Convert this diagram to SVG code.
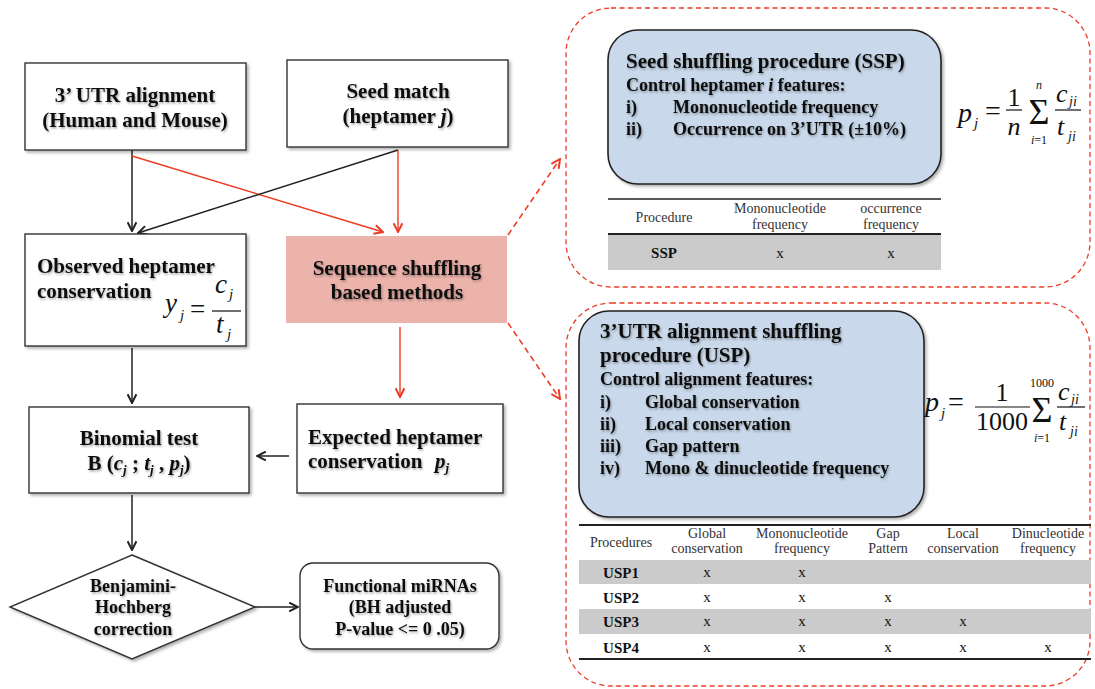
<svg xmlns="http://www.w3.org/2000/svg" width="1095" height="689" viewBox="0 0 1095 689">
  <style>
    .t { font-family: "Liberation Serif", "Times New Roman", serif; fill: #111; }
    .b { font-weight: bold; }
    .i { font-style: italic; }
    .n21 { font-size: 21px; }
    .n18 { font-size: 18px; }
    .tab { font-size: 14px; fill: #333; }
    .row { font-size: 15px; }
    .box { fill: #fff; stroke: #333; stroke-width: 1.4; }
    .blue { fill: #c9d9eb; stroke: #222; stroke-width: 1.6; }
    .dash { fill: none; stroke: #ee3b24; stroke-width: 1.3; stroke-dasharray: 5 3.5; }
    .blk { fill: none; stroke: #222; stroke-width: 1.5; }
    .red { fill: none; stroke: #ee3b24; stroke-width: 1.4; }
    .reddash { fill: none; stroke: #ee3b24; stroke-width: 1.5; stroke-dasharray: 6 4; }
    .shd { filter: url(#ds); }
    .tsh { filter: url(#ts); }
  </style>
  <defs>
    <filter id="ds" x="-10%" y="-10%" width="130%" height="130%">
      <feDropShadow dx="2" dy="2" stdDeviation="1.5" flood-color="#000" flood-opacity="0.3"/>
    </filter>
    <filter id="ts" x="-5%" y="-20%" width="115%" height="150%">
      <feDropShadow dx="1" dy="1.5" stdDeviation="0.9" flood-color="#000" flood-opacity="0.35"/>
    </filter>
    <marker id="ab" viewBox="0 0 10 10" refX="9" refY="5" markerWidth="11" markerHeight="11" markerUnits="userSpaceOnUse" orient="auto">
      <path d="M1,1 L9,5 L1,9" fill="none" stroke="#222" stroke-width="1.8"/>
    </marker>
    <marker id="ar" viewBox="0 0 10 10" refX="9" refY="5" markerWidth="11" markerHeight="11" markerUnits="userSpaceOnUse" orient="auto">
      <path d="M1,1 L9,5 L1,9" fill="none" stroke="#ee3b24" stroke-width="1.8"/>
    </marker>
  </defs>

  <rect width="1095" height="689" fill="#fff"/>

  <!-- panels on the right -->
  <rect class="dash" x="566" y="8" width="524" height="279" rx="45"/>
  <rect class="dash" x="566" y="303" width="524" height="383" rx="45"/>

  <!-- connectors -->
  <g id="connectors">
    <line class="blk" x1="132" y1="150" x2="132" y2="231" marker-end="url(#ab)"/>
    <line class="red" x1="132" y1="156" x2="383" y2="232" marker-end="url(#ar)"/>
    <line class="blk" x1="398" y1="150" x2="138" y2="233" marker-end="url(#ab)"/>
    <line class="red" x1="398" y1="150" x2="398" y2="232" marker-end="url(#ar)"/>
    <line class="red" x1="400" y1="327" x2="400" y2="397" marker-end="url(#ar)"/>
    <line class="blk" x1="132" y1="348" x2="132" y2="403" marker-end="url(#ab)"/>
    <line class="blk" x1="289" y1="456" x2="257" y2="456" marker-end="url(#ab)"/>
    <line class="blk" x1="132" y1="495" x2="132" y2="550" marker-end="url(#ab)"/>
    <line class="blk" x1="255" y1="607" x2="298" y2="607" marker-end="url(#ab)"/>
    <line class="reddash" x1="508" y1="235" x2="560" y2="159" marker-end="url(#ar)"/>
    <line class="reddash" x1="508" y1="323" x2="560" y2="399" marker-end="url(#ar)"/>
  </g>

  <!-- 3' UTR alignment -->
  <g id="utr-alignment">
    <rect class="box shd" x="25" y="63" width="221" height="87"/>
    <g class="tsh">
      <text class="t b n21" x="135" y="102" text-anchor="middle">3’ UTR alignment</text>
      <text class="t b n21" x="135" y="127" text-anchor="middle">(Human and Mouse)</text>
    </g>
  </g>

  <!-- Seed match -->
  <g id="seed-match">
    <rect class="box shd" x="287" y="60" width="221" height="87"/>
    <g class="tsh">
      <text class="t b n21" x="398" y="98" text-anchor="middle">Seed match</text>
      <text class="t b n21" x="398" y="123" text-anchor="middle">(heptamer <tspan class="i">j</tspan>)</text>
    </g>
  </g>

  <!-- Observed heptamer conservation -->
  <g id="observed">
    <rect class="box shd" x="25" y="234" width="221" height="112"/>
    <g class="tsh">
      <text class="t b n21" x="37" y="273">Observed heptamer</text>
      <text class="t b n21" x="37" y="298">conservation</text>
    </g>
    <text class="t i" x="165" y="312" font-size="27">y</text>
    <text class="t i" x="180" y="320" font-size="15">j</text>
    <text class="t" x="190" y="318" font-size="27">=</text>
    <line x1="212" y1="311" x2="241" y2="311" stroke="#111" stroke-width="1.2"/>
    <text class="t i" x="215" y="293" font-size="27">c</text>
    <text class="t i" x="229" y="299" font-size="15">j</text>
    <text class="t i" x="216" y="333" font-size="27">t</text>
    <text class="t i" x="227" y="339" font-size="15">j</text>
  </g>

  <!-- Sequence shuffling based methods -->
  <g id="shuffling">
    <rect x="286" y="236" width="221" height="87" fill="#ecb3ab"/>
    <g class="tsh">
      <text class="t b n21" x="397" y="275" text-anchor="middle">Sequence shuffling</text>
      <text class="t b n21" x="397" y="299" text-anchor="middle">based methods</text>
    </g>
  </g>

  <!-- Binomial test -->
  <g id="binomial">
    <rect class="box shd" x="29" y="407" width="220" height="86"/>
    <g class="tsh">
      <text class="t b n21" x="139" y="445" text-anchor="middle">Binomial test</text>
      <text class="t b n21" x="139" y="470" text-anchor="middle">B (<tspan class="i">c</tspan><tspan class="i" font-size="13" dy="4">j</tspan><tspan dy="-4"> ; </tspan><tspan class="i">t</tspan><tspan class="i" font-size="13" dy="4">j</tspan><tspan dy="-4"> , </tspan><tspan class="i">p</tspan><tspan class="i" font-size="13" dy="4">j</tspan><tspan dy="-4">)</tspan></text>
    </g>
  </g>

  <!-- Expected heptamer conservation -->
  <g id="expected">
    <rect class="box shd" x="297" y="404" width="206" height="89"/>
    <g class="tsh">
      <text class="t b n21" x="308" y="444">Expected heptamer</text>
      <text class="t b n21" x="308" y="468">conservation</text>
      <text class="t b i n21" x="435" y="468">p<tspan font-size="13" dy="4">j</tspan></text>
    </g>
  </g>

  <!-- Benjamini-Hochberg correction -->
  <g id="bh-correction">
    <polygon class="box shd" points="132,555 255,607 132,659 10,607"/>
    <g class="tsh">
      <text class="t b n18" x="133" y="592" text-anchor="middle">Benjamini-</text>
      <text class="t b n18" x="133" y="613" text-anchor="middle">Hochberg</text>
      <text class="t b n18" x="133" y="635" text-anchor="middle">correction</text>
    </g>
  </g>

  <!-- Functional miRNAs -->
  <g id="functional">
    <rect class="box shd" x="300" y="563" width="199" height="86" rx="13"/>
    <g class="tsh">
      <text class="t b n18" x="400" y="592" text-anchor="middle">Functional miRNAs</text>
      <text class="t b n18" x="400" y="613" text-anchor="middle">(BH adjusted</text>
      <text class="t b n18" x="400" y="635" text-anchor="middle">P-value &lt;= 0 .05)</text>
    </g>
  </g>

  <!-- Seed shuffling procedure -->
  <g id="ssp">
    <rect class="blue shd" x="608" y="30" width="333" height="154" rx="30"/>
    <g class="tsh">
      <text class="t b n21" x="626" y="68">Seed shuffling procedure (SSP)</text>
      <text class="t b n18" x="626" y="91">Control heptamer <tspan class="i">i</tspan> features:</text>
      <text class="t b n18" x="626" y="113">i)</text>
      <text class="t b n18" x="673" y="113">Mononucleotide frequency</text>
      <text class="t b n18" x="626" y="135">ii)</text>
      <text class="t b n18" x="673" y="135">Occurrence on 3’UTR (±10%)</text>
    </g>
  </g>

  <!-- SSP formula -->
  <g id="ssp-formula">
    <text class="t i" x="958" y="122" font-size="28">p</text>
    <text class="t i" x="974" y="128" font-size="15">j</text>
    <text class="t" x="985" y="120" font-size="28">=</text>
    <text class="t" x="1014" y="106" font-size="26" text-anchor="middle">1</text>
    <line x1="1006" y1="110" x2="1022" y2="110" stroke="#111" stroke-width="1.2"/>
    <text class="t i" x="1014" y="135" font-size="26" text-anchor="middle">n</text>
    <text class="t" x="1039" y="124" font-size="36" text-anchor="middle">Σ</text>
    <text class="t i" x="1039" y="89" font-size="12" text-anchor="middle">n</text>
    <text class="t" x="1039" y="144" font-size="12" text-anchor="middle"><tspan class="i">i</tspan>=1</text>
    <text class="t i" x="1056" y="102" font-size="26">c</text>
    <text class="t i" x="1069" y="106" font-size="14">ji</text>
    <line x1="1055" y1="110" x2="1081" y2="110" stroke="#111" stroke-width="1.2"/>
    <text class="t i" x="1057" y="135" font-size="26">t</text>
    <text class="t i" x="1068" y="141" font-size="14">ji</text>
  </g>

  <!-- SSP table -->
  <g id="ssp-table">
    <rect x="608" y="235" width="333" height="35" fill="#cbcbcb"/>
    <line x1="608" y1="199" x2="941" y2="199" stroke="#222" stroke-width="1.5"/>
    <line x1="608" y1="234" x2="941" y2="234" stroke="#222" stroke-width="2"/>
    <text class="t tab" x="664" y="222" text-anchor="middle">Procedure</text>
    <text class="t tab" x="780" y="213" text-anchor="middle">Mononucleotide</text>
    <text class="t tab" x="780" y="229" text-anchor="middle">frequency</text>
    <text class="t tab" x="891" y="213" text-anchor="middle">occurrence</text>
    <text class="t tab" x="891" y="229" text-anchor="middle">frequency</text>
    <text class="t b row" x="664" y="258" text-anchor="middle">SSP</text>
    <text class="t row" x="780" y="258" text-anchor="middle">x</text>
    <text class="t row" x="891" y="258" text-anchor="middle">x</text>
  </g>

  <!-- 3'UTR alignment shuffling procedure -->
  <g id="usp">
    <rect class="blue shd" x="579" y="311" width="345" height="206" rx="30"/>
    <g class="tsh">
      <text class="t b n21" x="600" y="338">3’UTR alignment shuffling</text>
      <text class="t b n21" x="600" y="362">procedure (USP)</text>
      <text class="t b n18" x="600" y="385">Control alignment features:</text>
      <text class="t b n18" x="600" y="408">i)</text>
      <text class="t b n18" x="645" y="408">Global conservation</text>
      <text class="t b n18" x="600" y="430">ii)</text>
      <text class="t b n18" x="645" y="430">Local conservation</text>
      <text class="t b n18" x="600" y="452">iii)</text>
      <text class="t b n18" x="645" y="452">Gap pattern</text>
      <text class="t b n18" x="600" y="474">iv)</text>
      <text class="t b n18" x="645" y="474">Mono &amp; dinucleotide frequency</text>
    </g>
  </g>

  <!-- USP formula -->
  <g id="usp-formula">
    <text class="t i" x="925" y="411" font-size="28">p</text>
    <text class="t i" x="941" y="418" font-size="15">j</text>
    <text class="t" x="948" y="411" font-size="28">=</text>
    <text class="t" x="1002" y="401" font-size="26" text-anchor="middle">1</text>
    <line x1="975" y1="407" x2="1030" y2="407" stroke="#111" stroke-width="1.2"/>
    <text class="t" x="1002" y="430" font-size="26" text-anchor="middle">1000</text>
    <text class="t" x="1042" y="422" font-size="36" text-anchor="middle">Σ</text>
    <text class="t" x="1042" y="387" font-size="12" text-anchor="middle">1000</text>
    <text class="t" x="1042" y="442" font-size="12" text-anchor="middle"><tspan class="i">i</tspan>=1</text>
    <text class="t i" x="1058" y="400" font-size="26">c</text>
    <text class="t i" x="1071" y="404" font-size="14">ji</text>
    <line x1="1057" y1="407" x2="1085" y2="407" stroke="#111" stroke-width="1.2"/>
    <text class="t i" x="1059" y="430" font-size="26">t</text>
    <text class="t i" x="1070" y="436" font-size="14">ji</text>
  </g>

  <!-- USP table -->
  <g id="usp-table">
    <rect x="579" y="560" width="512" height="24" fill="#cbcbcb"/>
    <rect x="579" y="609" width="512" height="25" fill="#cbcbcb"/>
    <line x1="579" y1="525" x2="1091" y2="525" stroke="#222" stroke-width="2"/>
    <line x1="579" y1="659" x2="1091" y2="659" stroke="#222" stroke-width="2"/>
    <text class="t tab" x="621" y="547" text-anchor="middle">Procedures</text>
    <text class="t tab" x="707" y="538" text-anchor="middle">Global</text>
    <text class="t tab" x="707" y="553" text-anchor="middle">conservation</text>
    <text class="t tab" x="802" y="538" text-anchor="middle">Mononucleotide</text>
    <text class="t tab" x="802" y="553" text-anchor="middle">frequency</text>
    <text class="t tab" x="888" y="538" text-anchor="middle">Gap</text>
    <text class="t tab" x="888" y="553" text-anchor="middle">Pattern</text>
    <text class="t tab" x="963" y="538" text-anchor="middle">Local</text>
    <text class="t tab" x="963" y="553" text-anchor="middle">conservation</text>
    <text class="t tab" x="1048" y="538" text-anchor="middle">Dinucleotide</text>
    <text class="t tab" x="1048" y="553" text-anchor="middle">frequency</text>

    <text class="t b row" x="621" y="578" text-anchor="middle">USP1</text>
    <text class="t row" x="707" y="577" text-anchor="middle">x</text>
    <text class="t row" x="802" y="577" text-anchor="middle">x</text>

    <text class="t b row" x="621" y="603" text-anchor="middle">USP2</text>
    <text class="t row" x="707" y="602" text-anchor="middle">x</text>
    <text class="t row" x="802" y="602" text-anchor="middle">x</text>
    <text class="t row" x="888" y="602" text-anchor="middle">x</text>

    <text class="t b row" x="621" y="627" text-anchor="middle">USP3</text>
    <text class="t row" x="707" y="626" text-anchor="middle">x</text>
    <text class="t row" x="802" y="626" text-anchor="middle">x</text>
    <text class="t row" x="888" y="626" text-anchor="middle">x</text>
    <text class="t row" x="963" y="626" text-anchor="middle">x</text>

    <text class="t b row" x="621" y="653" text-anchor="middle">USP4</text>
    <text class="t row" x="707" y="652" text-anchor="middle">x</text>
    <text class="t row" x="802" y="652" text-anchor="middle">x</text>
    <text class="t row" x="888" y="652" text-anchor="middle">x</text>
    <text class="t row" x="963" y="652" text-anchor="middle">x</text>
    <text class="t row" x="1048" y="652" text-anchor="middle">x</text>
  </g>
</svg>
